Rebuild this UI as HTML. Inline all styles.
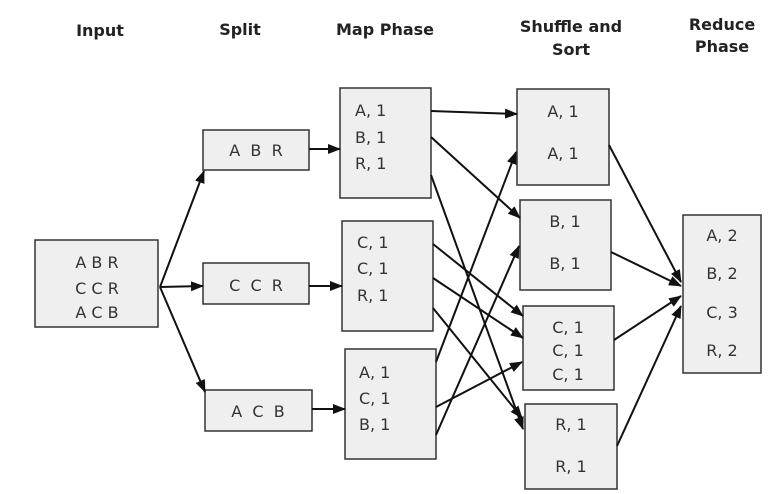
<!DOCTYPE html>
<html><head><meta charset="utf-8"><style>
html,body{margin:0;padding:0;background:#fff;}
svg{display:block;}
.h{font-family:"DejaVu Sans","Liberation Sans",sans-serif;font-weight:bold;font-size:16px;fill:#222;text-anchor:middle;}
.t{font-family:"DejaVu Sans","Liberation Sans",sans-serif;font-size:16px;fill:#333;white-space:pre;}
.c{text-anchor:middle;}
rect{fill:#efefef;stroke:#333;stroke-width:1.5;}
line{stroke:#111;stroke-width:2;}
</style></head><body>
<svg width="777" height="494" viewBox="0 0 777 494" xmlns="http://www.w3.org/2000/svg">
<defs><marker id="a" markerWidth="13" markerHeight="10" refX="12" refY="5" orient="auto" markerUnits="userSpaceOnUse"><path d="M0,0 L13,5 L0,10 z" fill="#111"/></marker></defs>
<text class="h" x="100" y="36">Input</text>
<text class="h" x="240" y="35">Split</text>
<text class="h" x="385" y="35">Map Phase</text>
<text class="h" x="571" y="32">Shuffle and</text>
<text class="h" x="571" y="55">Sort</text>
<text class="h" x="722" y="30">Reduce</text>
<text class="h" x="722" y="52">Phase</text>

<rect x="35" y="240" width="123" height="87"/>
<text class="t c" x="97" y="268">A B R</text>
<text class="t c" x="97" y="294">C C R</text>
<text class="t c" x="97" y="318">A C B</text>

<rect x="203" y="130" width="106" height="40"/>
<text class="t c" x="256" y="156" xml:space="preserve">A  B  R</text>
<rect x="203" y="263" width="106" height="41"/>
<text class="t c" x="256" y="291" xml:space="preserve">C  C  R</text>
<rect x="205" y="390" width="107" height="41"/>
<text class="t c" x="258" y="417" xml:space="preserve">A  C  B</text>

<rect x="340" y="88" width="91" height="110"/>
<text class="t" x="355" y="116">A, 1</text><text class="t" x="355" y="143">B, 1</text><text class="t" x="355" y="169">R, 1</text>
<rect x="342" y="221" width="91" height="110"/>
<text class="t" x="357" y="248">C, 1</text><text class="t" x="357" y="274">C, 1</text><text class="t" x="357" y="301">R, 1</text>
<rect x="345" y="349" width="91" height="110"/>
<text class="t" x="359" y="378">A, 1</text><text class="t" x="359" y="404">C, 1</text><text class="t" x="359" y="430">B, 1</text>

<rect x="517" y="89" width="92" height="96"/>
<text class="t c" x="563" y="117">A, 1</text><text class="t c" x="563" y="159">A, 1</text>
<rect x="520" y="200" width="91" height="90"/>
<text class="t c" x="565" y="227">B, 1</text><text class="t c" x="565" y="269">B, 1</text>
<rect x="523" y="306" width="91" height="84"/>
<text class="t c" x="568" y="333">C, 1</text><text class="t c" x="568" y="356">C, 1</text><text class="t c" x="568" y="380">C, 1</text>
<rect x="525" y="404" width="92" height="85"/>
<text class="t c" x="571" y="430">R, 1</text><text class="t c" x="571" y="472">R, 1</text>

<rect x="683" y="215" width="78" height="158"/>
<text class="t c" x="722" y="241">A, 2</text><text class="t c" x="722" y="279">B, 2</text><text class="t c" x="722" y="318">C, 3</text><text class="t c" x="722" y="356">R, 2</text>

<g marker-end="url(#a)">
<line x1="160" y1="287" x2="204" y2="171"/>
<line x1="160" y1="287" x2="203" y2="286"/>
<line x1="160" y1="287" x2="205" y2="392"/>
<line x1="309" y1="149" x2="340" y2="149"/>
<line x1="309" y1="286" x2="342" y2="286"/>
<line x1="312" y1="409" x2="345" y2="409"/>
<line x1="431" y1="111" x2="517" y2="114"/>
<line x1="431" y1="137" x2="520" y2="218"/>
<line x1="431" y1="175" x2="523" y2="429"/>
<line x1="433" y1="244" x2="523" y2="316"/>
<line x1="433" y1="278" x2="523" y2="338"/>
<line x1="433" y1="308" x2="522" y2="418"/>
<line x1="436" y1="362" x2="516" y2="152"/>
<line x1="436" y1="435" x2="519" y2="246"/>
<line x1="436" y1="407" x2="522" y2="362"/>
<line x1="609" y1="145" x2="681" y2="282"/>
<line x1="611" y1="252" x2="681" y2="286"/>
<line x1="614" y1="340" x2="681" y2="296"/>
<line x1="617" y1="446" x2="681" y2="306"/>
</g>
</svg>
</body></html>
